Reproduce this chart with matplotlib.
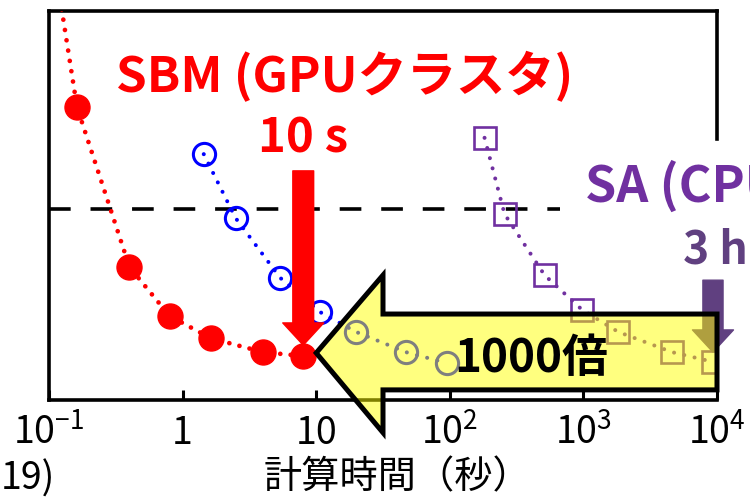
import numpy as np
import matplotlib
matplotlib.use('Agg')
import matplotlib.pyplot as plt
from matplotlib.patches import Polygon

plt.rcParams['font.family'] = ['Noto Sans CJK JP', 'DejaVu Sans']

# computation time (s) vs. normalised solution cost
sbm_time = [0.115, 0.162, 0.40, 0.80, 1.62, 4.0, 8.0]
sbm_cost = [1.08, 0.753, 0.342, 0.216, 0.159, 0.123, 0.113]
gpu_time = [1.44, 2.49, 5.38, 10.7, 19.9, 47, 95]
gpu_cost = [0.632, 0.468, 0.314, 0.226, 0.175, 0.123, 0.095]
sa_time = [182, 257, 512, 984, 1824, 4610, 9330]
sa_cost = [0.674, 0.478, 0.321, 0.231, 0.175, 0.123, 0.098]
target_cost = 0.491
target_end = 670

xticks = [0.1, 1, 10, 100, 1000, 10000]
xticklabels = [r'$\mathregular{10^{-1}}$', '1', '10', r'$\mathregular{10^{2}}$',
               r'$\mathregular{10^{3}}$', r'$\mathregular{10^{4}}$']

RED, BLUE, PURPLE, DPURPLE = '#ff0000', '#0000ff', '#7030a0', '#604080'

fig = plt.figure(figsize=(7.5, 4.99), dpi=100)
ax = fig.add_axes([49/750, 99/499, 668/750, 389/499])
ax.set_xscale('log')
ax.set_xlim(0.1, 1e4)
ax.set_ylim(0, 1)

ax.plot([0.1, target_end], [target_cost, target_cost], color='k', lw=2.6,
        ls=(0, (6, 5.5)), zorder=2)

ax.plot(sbm_time, sbm_cost, color=RED, lw=3.4, ls=(0, (0.01, 2.2)), dash_capstyle='round',
        marker='o', ms=18, mfc=RED, mec=RED, zorder=3)
ax.plot(gpu_time, gpu_cost, color=BLUE, lw=2.9, ls=(0, (0.01, 2.6)), dash_capstyle='round',
        marker='o', ms=16, mfc='none', mec=BLUE, mew=2.2, zorder=3)
ax.plot(sa_time, sa_cost, color=PURPLE, lw=2.9, ls=(0, (0.01, 2.6)), dash_capstyle='round',
        marker='s', ms=15.5, mfc='none', mec=PURPLE, mew=1.9, zorder=3)

for s in ax.spines.values():
    s.set_linewidth(2.6)
ax.spines['right'].set_bounds(0.67, 1.0)
ax.set_yticks([])
ax.set_xticks(xticks)
ax.set_xticklabels(xticklabels, fontsize=27)
ax.minorticks_off()
ax.tick_params(axis='x', direction='in', length=7.5, width=2.2, pad=10)

# pointers to the final results
ax.annotate('', xy=(sbm_time[-1], 0.141), xytext=(sbm_time[-1], 0.589),
            arrowprops=dict(arrowstyle='simple,head_width=2.95,head_length=1.6,tail_width=1.5',
                            mutation_scale=10, color=RED, shrinkA=0, shrinkB=0), zorder=4)
ax.annotate('', xy=(sa_time[-1], 0.123), xytext=(sa_time[-1], 0.308),
            arrowprops=dict(arrowstyle='simple,head_width=2.95,head_length=1.6,tail_width=1.45',
                            mutation_scale=10, color=DPURPLE, shrinkA=0, shrinkB=0),
            annotation_clip=False, zorder=4)

# speed-up arrow from 10^4 s back to 10 s
tip, back, tail = 10, 10**1.5, 1e4
yc, head_half, body_top, body_bot = 0.121, 0.205, 0.221, 0.026
arrow = Polygon([(tip, yc), (back, yc + 0.2), (back, body_top), (tail, body_top),
                 (tail, body_bot), (back, body_bot), (back, yc - head_half)],
                closed=True, facecolor=(1, 1, 0, 0.5), edgecolor='k', lw=3.6,
                joinstyle='miter', clip_on=False, zorder=5)
ax.add_patch(arrow)

fig.text(531/750, 1 - 372/499, '1000倍', fontsize=33, fontweight='bold',
         ha='center', va='baseline', zorder=6)
fig.text(345/750, 1 - 92/499, 'SBM (GPUクラスタ)', fontsize=35.5, fontweight='bold',
         color=RED, ha='center', va='baseline')
fig.text(303/750, 1 - 152/499, '10 s', fontsize=34, fontweight='bold',
         color=RED, ha='center', va='baseline')
fig.text(585/750, 1 - 202/499, 'SA (CPU)', fontsize=36, fontweight='bold',
         color=PURPLE, ha='left', va='baseline')
fig.text(683/750, 1 - 263/499, '3 h', fontsize=32, fontweight='bold',
         color=DPURPLE, ha='left', va='baseline')
fig.text(397/750, 1 - 478/499, '計算時間（秒）', fontsize=27.5, ha='center', va='center')
fig.text(1/750, 1 - 490/499, '19)', fontsize=27, ha='left', va='baseline')

fig.savefig('out.png', dpi=100)
